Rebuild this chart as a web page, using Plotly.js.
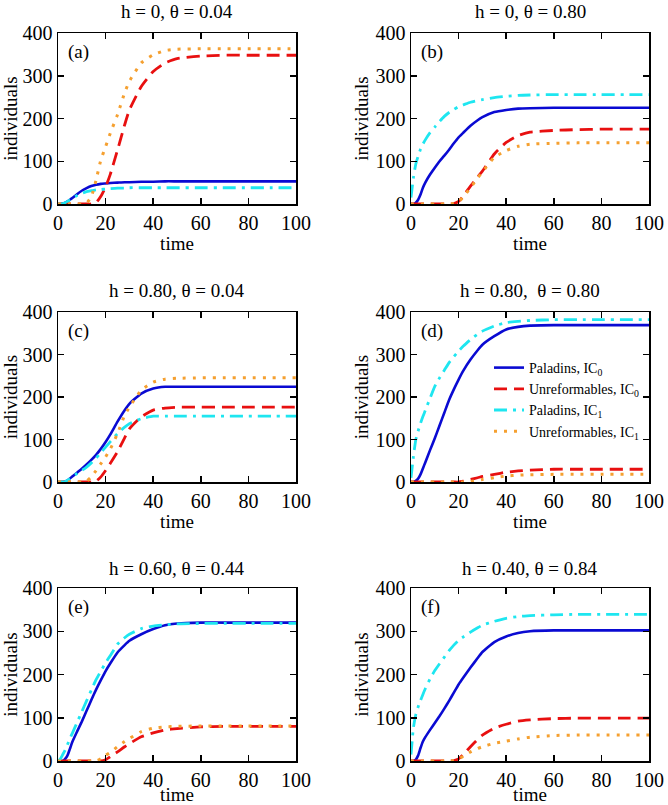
<!DOCTYPE html>
<html>
<head>
<meta charset="utf-8">
<script src="https://cdn.plot.ly/plotly-3.0.1.min.js"></script>
<style>
  html, body { margin: 0; padding: 0; background: #fff; }
  #chart { width: 668px; height: 805px; }
</style>
</head>
<body>
<div id="chart"></div>
<script>
// Paladins / Unreformables time series, six parameter sets (h, theta)

const timePoints = [0, 1, 2, 3, 4, 5, 6, 8, 10, 12, 14, 16, 18, 20, 22, 25, 28, 30, 35, 40, 45, 50, 60, 70, 80, 90, 100];

const panelLetters = ["(a)", "(b)", "(c)", "(d)", "(e)", "(f)"];
const panelTitles = [
    "h = 0, θ = 0.04",
    "h = 0, θ = 0.80",
    "h = 0.80, θ = 0.04",
    "h = 0.80,  θ = 0.80",
    "h = 0.60, θ = 0.44",
    "h = 0.40, θ = 0.84"
];
const seriesNames = [
    "Paladins, IC<sub>0</sub>",
    "Unreformables, IC<sub>0</sub>",
    "Paladins, IC<sub>1</sub>",
    "Unreformables, IC<sub>1</sub>"
];

// (a) h = 0, theta = 0.04
const paladins0A = [0, 0, 1, 3, 6, 10, 14, 23, 31, 37, 42, 45, 47, 48, 49, 50, 51, 51, 52, 52, 53, 53, 53, 53, 53, 53, 53];
const unreform0A = [0, 0, 0, 0, 0, 0, 0, 0, 0, 0, 0, 3, 18, 40, 70, 126, 185, 220, 275, 310, 330, 340, 346, 348, 348, 348, 348];
const paladins1A = [0, 0, 1, 3, 6, 10, 14, 20, 25, 29, 31, 33, 34, 35, 36, 37, 37, 38, 38, 38, 38, 38, 38, 38, 38, 38, 38];
const unreform1A = [0, 0, 0, 0, 0, 0, 0, 0, 0, 2, 17, 56, 103, 134, 166, 209, 260, 287, 330, 349, 359, 362, 363, 363, 363, 363, 363];

// (b) h = 0, theta = 0.80
const paladins0B = [0, 0, 3, 10, 22, 38, 50, 69, 85, 100, 113, 127, 142, 156, 167, 183, 196, 203, 215, 220, 223, 224, 225, 225, 225, 225, 225];
const unreform0B = [0, 0, 0, 0, 0, 0, 0, 0, 0, 0, 0, 0, 1, 6, 19, 42, 63, 77, 117, 144, 160, 168, 172, 174, 175, 175, 175];
const paladins1B = [15, 61, 93, 112, 128, 140, 150, 167, 180, 193, 205, 214, 221, 228, 232, 238, 242, 244, 249, 252, 254, 255, 256, 256, 256, 256, 256];
const unreform1B = [0, 0, 0, 0, 0, 0, 0, 0, 0, 0, 0, 0, 1, 5, 17, 38, 61, 75, 109, 125, 135, 140, 142, 143, 143, 143, 143];

// (c) h = 0.80, theta = 0.04
const paladins0C = [0, 0, 0, 1, 4, 8, 13, 22, 31, 41, 52, 64, 78, 94, 112, 142, 169, 184, 208, 220, 224, 224, 224, 224, 224, 224, 224];
const unreform0C = [0, 0, 0, 0, 0, 0, 0, 0, 0, 0, 0, 2, 12, 27, 44, 71, 104, 125, 153, 169, 174, 176, 176, 176, 176, 176, 176];
const paladins1C = [0, 0, 0, 1, 4, 8, 12, 20, 27, 35, 45, 56, 69, 82, 95, 114, 129, 137, 149, 155, 155, 155, 155, 155, 155, 155, 155];
const unreform1C = [0, 0, 0, 0, 0, 0, 0, 0, 0, 2, 12, 27, 43, 59, 78, 114, 157, 176, 216, 235, 242, 244, 245, 245, 245, 245, 245];

// (d) h = 0.80, theta = 0.80
const paladins0D = [0, 0, 3, 8, 18, 32, 46, 75, 103, 133, 163, 193, 218, 241, 262, 288, 310, 323, 343, 359, 365, 368, 369, 369, 369, 369, 369];
const unreform0D = [0, 0, 0, 0, 0, 0, 0, 0, 0, 0, 0, 0, 0, 0, 2, 6, 10, 13, 18, 23, 26, 28, 30, 30, 30, 30, 30];
const paladins1D = [10, 59, 99, 120, 138, 154, 168, 197, 225, 245, 263, 281, 295, 308, 320, 335, 348, 355, 367, 375, 378, 380, 382, 382, 382, 382, 382];
const unreform1D = [0, 0, 0, 0, 0, 0, 0, 0, 0, 0, 0, 0, 0, 0, 0, 1, 4, 6, 10, 14, 16, 17, 18, 18, 18, 18, 18];

// (e) h = 0.60, theta = 0.44
const paladins0E = [0, 0, 0, 5, 13, 28, 44, 68, 91, 116, 141, 165, 187, 208, 226, 251, 268, 278, 293, 305, 314, 318, 320, 320, 320, 320, 320];
const unreform0E = [0, 0, 0, 0, 0, 0, 0, 0, 0, 0, 0, 0, 0, 3, 10, 21, 33, 40, 56, 65, 72, 75, 79, 80, 80, 80, 80];
const paladins1E = [0, 5, 15, 25, 38, 52, 64, 89, 114, 139, 164, 188, 208, 227, 244, 270, 285, 293, 306, 312, 315, 317, 318, 318, 318, 318, 318];
const unreform1E = [0, 0, 0, 0, 0, 0, 0, 0, 0, 0, 0, 0, 5, 13, 20, 33, 45, 52, 68, 76, 79, 80, 81, 81, 81, 81, 81];

// (f) h = 0.40, theta = 0.84
const paladins0F = [0, 0, 3, 13, 30, 45, 55, 72, 88, 104, 121, 139, 158, 177, 193, 216, 238, 252, 275, 288, 296, 300, 302, 302, 302, 302, 302];
const unreform0F = [0, 0, 0, 0, 0, 0, 0, 0, 0, 0, 0, 0, 1, 5, 15, 33, 50, 60, 76, 85, 92, 95, 98, 99, 99, 99, 99];
const paladins1F = [15, 76, 107, 125, 140, 154, 167, 190, 209, 225, 240, 255, 268, 279, 287, 298, 308, 314, 323, 330, 334, 336, 338, 339, 339, 339, 339];
const unreform1F = [0, 0, 0, 0, 0, 0, 0, 0, 0, 0, 0, 0, 1, 5, 11, 21, 29, 33, 41, 46, 51, 55, 59, 60, 60, 60, 60];

const panelSeries = [
    [paladins0A, unreform0A, paladins1A, unreform1A],
    [paladins0B, unreform0B, paladins1B, unreform1B],
    [paladins0C, unreform0C, paladins1C, unreform1C],
    [paladins0D, unreform0D, paladins1D, unreform1D],
    [paladins0E, unreform0E, paladins1E, unreform1E],
    [paladins0F, unreform0F, paladins1F, unreform1F]
];

// =========================================================================

const W = 668, H = 805;
const serif = "'Liberation Serif', 'Times New Roman', serif";

const lineStyles = [
    { color: "#0a0ad2", width: 2.6, dash: "solid" },
    { color: "#e81010", width: 2.8, dash: "13px,7px" },
    { color: "#1ee6f0", width: 2.8, dash: "13px,6px,3px,6px" },
    { color: "#f5a030", width: 3, dash: "3px,7px" }
];

// panel boxes in pixels [left, right, top, bottom]
const colX = [[58, 296], [411, 649]];
const rowY = [[33, 204], [312, 482], [588, 761]];
const titleY = [12, 290, 568];

const data = [];
const layout = {
    width: W,
    height: H,
    margin: { l: 0, r: 0, t: 0, b: 0 },
    paper_bgcolor: "#fff",
    plot_bgcolor: "#fff",
    font: { family: serif, size: 20, color: "#000" },
    showlegend: true,
    legend: {
        x: 489 / W,
        y: 1 - 352 / H,
        xanchor: "left",
        yanchor: "top",
        bgcolor: "rgba(0,0,0,0)",
        font: { family: serif, size: 14, color: "#000" },
        itemwidth: 30,
        tracegroupgap: 0
    },
    annotations: []
};

panelSeries.forEach((series, p) => {
    const col = p % 2;
    const row = Math.floor(p / 2);
    const n = p + 1;
    const xName = n === 1 ? "xaxis" : "xaxis" + n;
    const yName = n === 1 ? "yaxis" : "yaxis" + n;
    const xRef = n === 1 ? "x" : "x" + n;
    const yRef = n === 1 ? "y" : "y" + n;

    series.forEach((values, s) => {
        data.push({
            x: timePoints,
            y: values,
            xaxis: xRef,
            yaxis: yRef,
            type: "scatter",
            mode: "lines",
            name: seriesNames[s],
            showlegend: p === 3,
            line: Object.assign({ shape: "spline", smoothing: 0.5 }, lineStyles[s]),
            hoverinfo: "x+y"
        });
    });

    const axisCommon = {
        showline: true,
        linecolor: "#000",
        linewidth: 1.5,
        mirror: "ticks",
        ticks: "inside",
        ticklen: 6,
        tickwidth: 1.5,
        tickcolor: "#000",
        showgrid: false,
        zeroline: false,
        tickfont: { family: serif, size: 20, color: "#000" }
    };

    layout[xName] = Object.assign({}, axisCommon, {
        domain: [colX[col][0] / W, colX[col][1] / W],
        anchor: yRef,
        range: [0, 100],
        dtick: 20,
        title: { text: "time", font: { family: serif, size: 19 }, standoff: 0 }
    });
    layout[yName] = Object.assign({}, axisCommon, {
        domain: [1 - rowY[row][1] / H, 1 - rowY[row][0] / H],
        anchor: xRef,
        range: [0, 400],
        dtick: 100,
        title: { text: "individuals", font: { family: serif, size: 19 }, standoff: 2 }
    });

    layout.annotations.push({
        text: panelTitles[p],
        xref: "paper",
        yref: "paper",
        x: (colX[col][0] + colX[col][1]) / 2 / W,
        y: 1 - titleY[row] / H,
        xanchor: "center",
        yanchor: "middle",
        showarrow: false,
        font: { family: serif, size: 19, color: "#000" }
    });
    layout.annotations.push({
        text: panelLetters[p],
        xref: xRef + " domain",
        yref: yRef + " domain",
        x: 0.035,
        y: 0.89,
        xanchor: "left",
        yanchor: "middle",
        showarrow: false,
        font: { family: serif, size: 19, color: "#000" }
    });
});

Plotly.newPlot("chart", data, layout, { displayModeBar: false, staticPlot: true });
</script>
</body>
</html>
